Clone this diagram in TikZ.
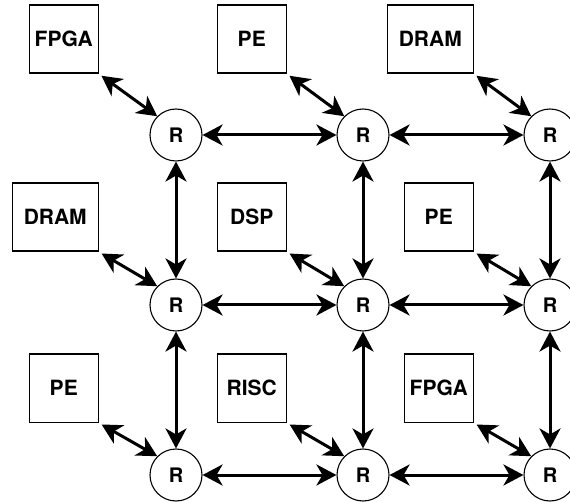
\documentclass[tikz,border=0pt]{standalone}
\usepackage{fontspec}
\setmainfont{TeX Gyre Heros}
\usetikzlibrary{arrows.meta}

\begin{document}
\begin{tikzpicture}[x=1pt,y=-1pt,
  router/.style={circle,draw,line width=1.1pt,minimum size=52pt,inner sep=0pt,
    font=\fontsize{20}{22}\selectfont\bfseries},
  unit/.style={rectangle,draw,line width=1.5pt,minimum width=69pt,minimum height=68pt,
    inner sep=3pt,anchor=south east,font=\fontsize{21}{24}\selectfont\bfseries},
  wide/.style={minimum width=86pt},
  link/.style={line width=3pt,{Stealth[length=20pt,width=21pt,inset=6pt]}-{Stealth[length=20pt,width=21pt,inset=6pt]}}]

\useasboundingbox (0,0) rectangle (570,502);
\clip (0,0) rectangle (570,502);

% routers
\node[router] (r11) at (176,135) {R};
\node[router] (r12) at (363,135) {R};
\node[router] (r13) at (550,135) {R};
\node[router] (r21) at (176,305) {R};
\node[router] (r22) at (363,305) {R};
\node[router] (r23) at (550,305) {R};
\node[router] (r31) at (176,475) {R};
\node[router] (r32) at (363,475) {R};
\node[router] (r33) at (550,475) {R};

% attached units
\node[unit] (u11) at (99,74) {FPGA};
\node[unit] (u12) at (287,74) {PE};
\node[unit,wide] (u13) at (474,74) {DRAM};
\node[unit,wide] (u21) at (99,252) {DRAM};
\node[unit] (u22) at (287,252) {DSP};
\node[unit] (u23) at (474,252) {PE};
\node[unit] (u31) at (99,423) {PE};
\node[unit] (u32) at (287,423) {RISC};
\node[unit] (u33) at (474,423) {FPGA};

% mesh links
\draw[link] (r11) -- (r12);
\draw[link] (r12) -- (r13);
\draw[link] (r21) -- (r22);
\draw[link] (r22) -- (r23);
\draw[link] (r31) -- (r32);
\draw[link] (r32) -- (r33);
\draw[link] (r11) -- (r21);
\draw[link] (r21) -- (r31);
\draw[link] (r12) -- (r22);
\draw[link] (r22) -- (r32);
\draw[link] (r13) -- (r23);
\draw[link] (r23) -- (r33);

% unit to router
\draw[link,shorten <=3pt] (u11.south east) -- (r11.north west);
\draw[link,shorten <=3pt] (u12.south east) -- (r12.north west);
\draw[link,shorten <=3pt] (u13.south east) -- (r13.north west);
\draw[link,shorten <=3pt] (u21.south east) -- (r21.north west);
\draw[link,shorten <=3pt] (u22.south east) -- (r22.north west);
\draw[link,shorten <=3pt] (u23.south east) -- (r23.north west);
\draw[link,shorten <=3pt] (u31.south east) -- (r31.north west);
\draw[link,shorten <=3pt] (u32.south east) -- (r32.north west);
\draw[link,shorten <=3pt] (u33.south east) -- (r33.north west);

\end{tikzpicture}
\end{document}
